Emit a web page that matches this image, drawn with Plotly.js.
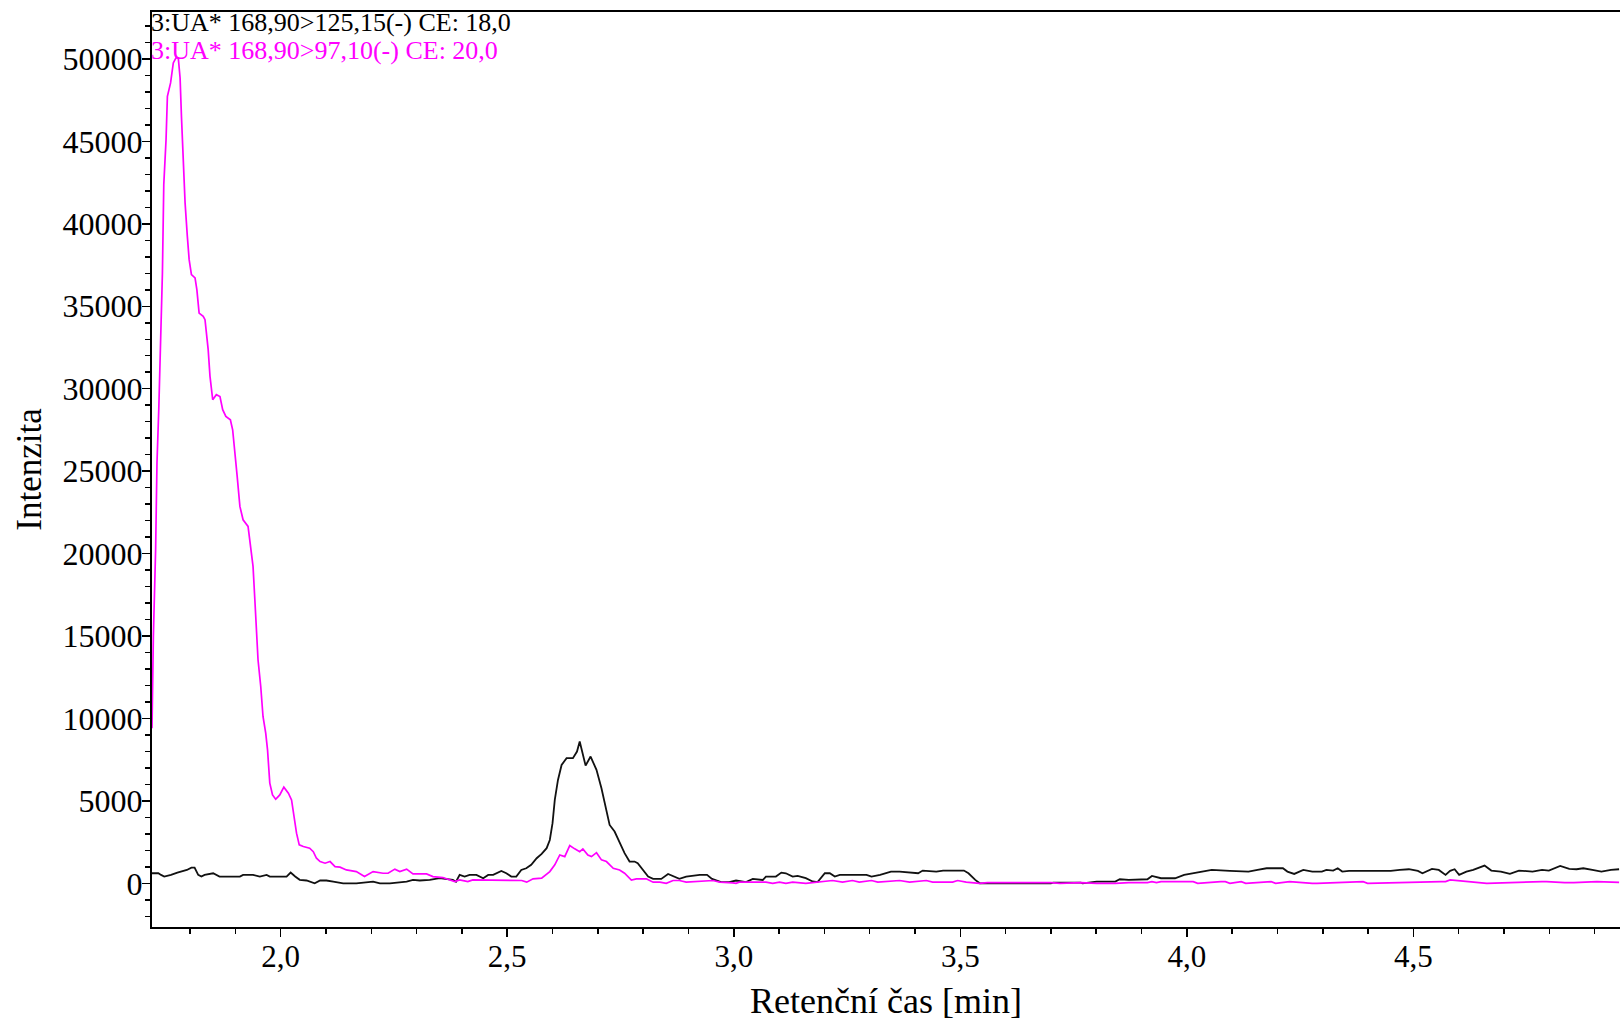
<!DOCTYPE html>
<html>
<head>
<meta charset="utf-8">
<script src="https://cdn.plot.ly/plotly-3.0.1.min.js"></script>
<style>html,body{margin:0;padding:0;background:#fff;}#chart{width:1620px;height:1021px;}</style>
</head>
<body>
<div id="chart"></div>
<script>
// Retention time (min) and intensity, transition 168,90>97,10 (magenta)
const magentaTime = [1.716,1.719,1.724,1.727,1.731,1.735,1.739,1.742,1.747,1.750,1.757,1.763,1.769,1.774,1.778,1.781,1.785,1.789,1.794,1.798,1.803,1.811,1.815,1.820,1.829,1.833,1.840,1.844,1.850,1.858,1.866,1.872,1.879,1.889,1.894,1.899,1.904,1.910,1.917,1.928,1.934,1.939,1.943,1.947,1.950,1.956,1.961,1.967,1.971,1.976,1.982,1.989,1.998,2.007,2.017,2.024,2.029,2.035,2.041,2.050,2.064,2.072,2.079,2.087,2.098,2.109,2.120,2.131,2.145,2.167,2.185,2.204,2.226,2.237,2.252,2.263,2.278,2.292,2.322,2.336,2.358,2.384,2.395,2.413,2.424,2.447,2.484,2.532,2.543,2.557,2.576,2.594,2.605,2.616,2.627,2.638,2.649,2.660,2.667,2.678,2.686,2.697,2.708,2.719,2.734,2.748,2.759,2.774,2.785,2.807,2.822,2.837,2.851,2.866,2.880,2.895,2.954,2.969,2.998,3.005,3.012,3.071,3.086,3.101,3.115,3.130,3.159,3.189,3.218,3.240,3.262,3.277,3.304,3.318,3.366,3.388,3.425,3.439,3.483,3.494,3.513,3.542,3.560,3.700,3.720,3.766,3.801,3.842,3.872,3.913,3.923,3.933,3.943,4.014,4.024,4.075,4.085,4.095,4.120,4.130,4.186,4.196,4.227,4.277,4.287,4.389,4.399,4.561,4.571,4.581,4.642,4.652,4.662,4.784,4.794,4.834,4.854,4.905,4.954];
const magentaIntensity = [9400,14970,20230,25500,28800,32770,37020,42380,45110,47740,48550,49760,50070,50070,48850,46520,43790,41270,39240,37830,36920,36720,36010,34590,34390,34190,32370,30750,29330,29640,29530,28730,28320,28120,27510,26300,24680,22860,22050,21650,20230,19220,17200,15180,13560,11940,10120,9110,8090,6070,5360,5100,5360,5830,5470,5060,4050,3040,2330,2230,2130,1920,1520,1320,1220,1320,1010,980,810,710,410,710,610,610,860,710,860,570,570,410,350,100,210,100,210,210,170,170,70,270,310,710,1120,1720,1620,2290,2090,1920,2090,1720,1620,1860,1420,1320,910,810,610,200,270,270,70,70,0,170,170,70,170,70,30,0,70,70,0,70,0,70,0,70,170,70,170,70,170,70,170,70,170,70,70,170,70,0,40,40,0,40,0,0,40,40,100,40,100,100,0,100,100,0,100,0,100,0,100,0,0,100,0,100,100,206,40,40,0,100,100,40,40,100,60,40];

// transition 168,90>125,15 (black)
const blackTime = [1.716,1.730,1.736,1.743,1.758,1.772,1.793,1.803,1.810,1.818,1.825,1.832,1.851,1.858,1.865,1.910,1.917,1.939,1.954,1.969,1.976,2.013,2.022,2.032,2.042,2.057,2.075,2.087,2.101,2.116,2.138,2.167,2.204,2.219,2.241,2.278,2.292,2.307,2.329,2.351,2.380,2.387,2.395,2.406,2.417,2.432,2.447,2.458,2.469,2.487,2.498,2.509,2.520,2.531,2.542,2.553,2.565,2.576,2.587,2.594,2.600,2.605,2.612,2.620,2.631,2.645,2.654,2.660,2.665,2.673,2.684,2.697,2.708,2.719,2.726,2.737,2.748,2.759,2.770,2.781,2.788,2.799,2.811,2.822,2.840,2.855,2.866,2.880,2.895,2.925,2.941,2.952,2.972,2.990,3.005,3.027,3.042,3.064,3.071,3.093,3.105,3.115,3.130,3.141,3.159,3.174,3.185,3.201,3.212,3.223,3.234,3.293,3.304,3.323,3.347,3.366,3.407,3.417,3.447,3.462,3.508,3.518,3.533,3.543,3.700,3.705,3.766,3.770,3.801,3.842,3.852,3.872,3.913,3.923,3.943,3.974,3.994,4.014,4.034,4.055,4.095,4.120,4.136,4.156,4.176,4.212,4.222,4.237,4.257,4.277,4.298,4.308,4.323,4.333,4.343,4.358,4.450,4.470,4.490,4.510,4.520,4.541,4.556,4.571,4.581,4.591,4.601,4.617,4.632,4.657,4.672,4.693,4.713,4.733,4.763,4.784,4.799,4.824,4.844,4.860,4.875,4.895,4.915,4.936,4.954];
const blackIntensity = [610,610,510,410,510,650,810,950,950,510,410,510,610,510,410,410,510,510,410,510,410,410,650,410,210,170,0,170,170,100,0,0,100,0,0,100,210,170,210,310,210,100,510,410,510,510,310,510,510,750,610,410,410,810,910,1120,1520,1790,2130,2630,3650,5060,6270,7180,7590,7590,7990,8600,8100,7140,7690,6880,5770,4450,3540,3140,2430,1830,1320,1320,1220,810,410,270,270,570,450,270,410,510,510,270,70,70,170,70,270,200,410,410,650,610,410,450,310,110,70,610,610,410,510,510,410,510,710,712,611,773,712,773,773,611,206,0,0,44,44,0,105,105,247,206,247,449,308,308,510,611,712,813,752,752,712,813,914,914,712,570,813,712,712,813,773,914,712,752,752,813,854,752,611,874,813,510,752,854,510,712,813,1076,773,712,570,773,712,813,773,1056,874,854,914,813,712,813,854];

const xTickVals = [2.0, 2.5, 3.0, 3.5, 4.0, 4.5];
const xTickText = ['2,0', '2,5', '3,0', '3,5', '4,0', '4,5'];
const yTickVals = [0, 5000, 10000, 15000, 20000, 25000, 30000, 35000, 40000, 45000, 50000];
const yTickText = ['0', '5000', '10000', '15000', '20000', '25000', '30000', '35000', '40000', '45000', '50000'];
const legendBlack = '3:UA* 168,90>125,15(-) CE: 18,0';
const legendMagenta = '3:UA* 168,90>97,10(-) CE: 20,0';
const xTitle = 'Retenční čas [min]';
const yTitle = 'Intenzita';

const serif = 'Liberation Serif, Times New Roman, serif';

const traces = [
  {x: blackTime, y: blackIntensity, type: 'scatter', mode: 'lines', name: legendBlack,
   line: {color: '#111111', width: 1.8}},
  {x: magentaTime, y: magentaIntensity, type: 'scatter', mode: 'lines', name: legendMagenta,
   line: {color: '#ff00ff', width: 1.7}}
];

const layout = {
  width: 1620, height: 1021,
  margin: {l: 152, r: 0, t: 12, b: 94, pad: 0},
  paper_bgcolor: '#ffffff', plot_bgcolor: '#ffffff',
  font: {family: serif, color: '#000000'},
  showlegend: false,
  xaxis: {
    range: [1.716, 4.956], tickmode: 'array', tickvals: xTickVals, ticktext: xTickText,
    ticks: 'outside', ticklen: 8, tickwidth: 1.5, tickcolor: '#000',
    showline: true, linecolor: '#000', linewidth: 2, mirror: true,
    showgrid: false, zeroline: false, tickfont: {size: 31, family: serif},
    ticklabelstandoff: -7,
    minor: {tickmode: 'linear', tick0: 0, dtick: 0.1, ticks: 'outside', ticklen: 5, tickwidth: 1.5, tickcolor: '#000', showgrid: false},
    title: {text: xTitle, font: {size: 36, family: serif}, standoff: 15},
    automargin: false
  },
  yaxis: {
    range: [-2650, 52850], tickmode: 'array', tickvals: yTickVals, ticktext: yTickText,
    ticks: 'outside', ticklen: 8, tickwidth: 1.5, tickcolor: '#000',
    showline: true, linecolor: '#000', linewidth: 2, mirror: false,
    showgrid: false, zeroline: false, tickfont: {size: 32, family: serif},
    ticklabelstandoff: -7,
    minor: {tickmode: 'linear', tick0: 0, dtick: 1000, ticks: 'outside', ticklen: 5, tickwidth: 1.5, tickcolor: '#000', showgrid: false},
    title: {text: yTitle, font: {size: 35, family: serif}, standoff: 10},
    automargin: false
  },
  annotations: [
    {xref: 'paper', yref: 'paper', x: 0, y: 0.989, xanchor: 'left', yanchor: 'middle', xshift: -3,
     text: legendBlack, showarrow: false, font: {size: 26, color: '#000000', family: serif}},
    {xref: 'paper', yref: 'paper', x: 0, y: 0.958, xanchor: 'left', yanchor: 'middle', xshift: -3,
     text: legendMagenta, showarrow: false, font: {size: 26, color: '#ff00ff', family: serif}}
  ]
};

Plotly.newPlot('chart', traces, layout, {displayModeBar: false, staticPlot: true});
</script>
</body>
</html>
